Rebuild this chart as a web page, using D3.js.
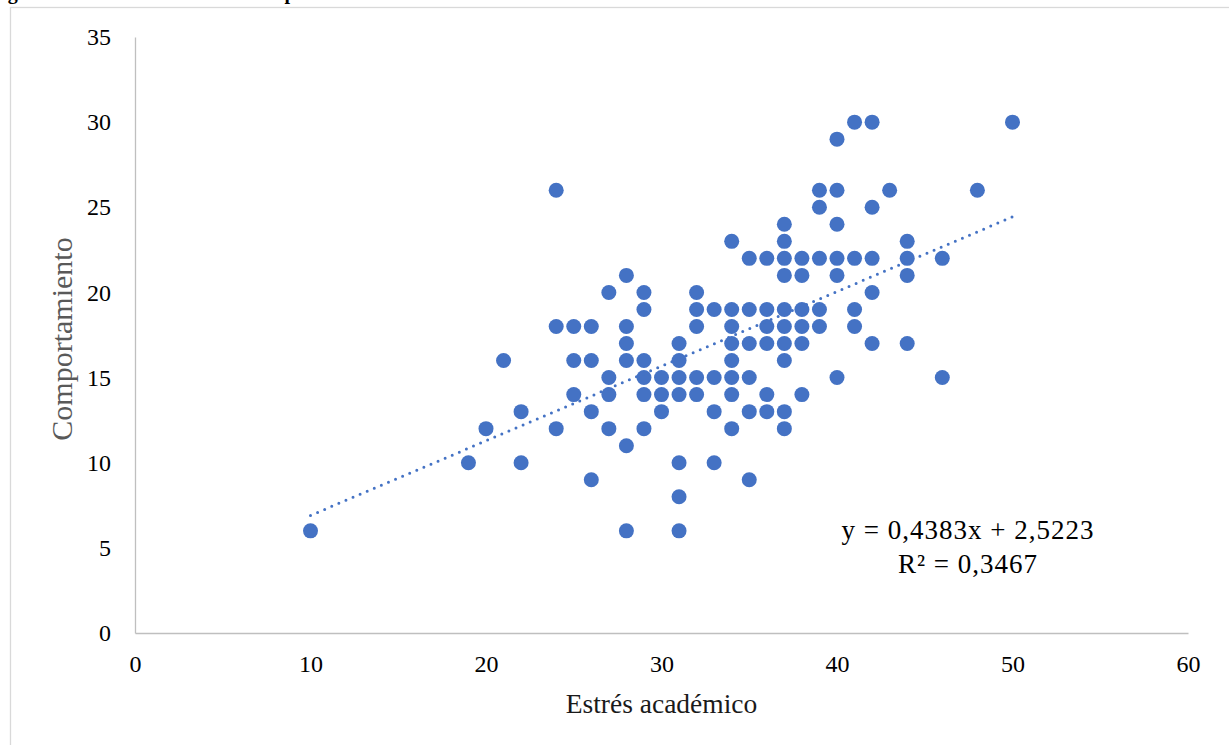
<!DOCTYPE html>
<html>
<head>
<meta charset="utf-8">
<script src="https://cdnjs.cloudflare.com/ajax/libs/d3/7.8.5/d3.min.js"></script>
<style>
  body { margin: 0; background: #fff; }
  svg { display: block; font-family: "Liberation Serif", "Times New Roman", serif; }
  svg text { font-family: "Liberation Serif", "Times New Roman", serif; }
</style>
</head>
<body>
<div id="chart"></div>
<script>
// estrés académico (x) and comportamiento (y), one entry per visible point
const ESTRES = [
  10, 19, 20, 21, 22, 22,
  24, 24, 24, 25, 25, 25,
  26, 26, 26, 26, 27, 27, 27, 27,
  28, 28, 28, 28, 28, 28,
  29, 29, 29, 29, 29, 29,
  30, 30, 30,
  31, 31, 31, 31, 31, 31, 31,
  32, 32, 32, 32, 32,
  33, 33, 33, 33,
  34, 34, 34, 34, 34, 34, 34, 34,
  35, 35, 35, 35, 35, 35,
  36, 36, 36, 36, 36, 36,
  37, 37, 37, 37, 37, 37, 37, 37, 37, 37,
  38, 38, 38, 38, 38, 38,
  39, 39, 39, 39, 39,
  40, 40, 40, 40, 40, 40,
  41, 41, 41, 41,
  42, 42, 42, 42, 42,
  43, 44, 44, 44, 44,
  46, 46, 48, 50
]
const COMPORTAMIENTO = [
  6, 10, 12, 16, 13, 10,
  26, 18, 12, 18, 16, 14,
  18, 16, 13, 9, 20, 15, 14, 12,
  21, 18, 17, 16, 11, 6,
  20, 19, 16, 15, 14, 12,
  15, 14, 13,
  17, 16, 15, 14, 10, 8, 6,
  20, 19, 18, 15, 14,
  19, 15, 13, 10,
  23, 19, 18, 17, 16, 15, 14, 12,
  22, 19, 17, 15, 13, 9,
  22, 19, 18, 17, 14, 13,
  24, 23, 22, 21, 19, 18, 17, 16, 13, 12,
  22, 21, 19, 18, 17, 14,
  26, 25, 22, 19, 18,
  29, 26, 24, 22, 21, 15,
  30, 22, 19, 18,
  30, 25, 22, 20, 17,
  26, 23, 22, 21, 17,
  22, 15, 26, 30
]
const X_TICKS = [0, 10, 20, 30, 40, 50, 60]
const Y_TICKS = [0, 5, 10, 15, 20, 25, 30, 35]

// linear trendline as printed on the chart
const SLOPE = 0.4383
const INTERCEPT = 2.5223
const TREND_RANGE = [10, 50]
const EQ_LINES = ["y = 0,4383x + 2,5223", "R² = 0,3467"]

const WIDTH = 1229
const HEIGHT = 745
const LEFT = 135
const RIGHT = 1188
const TOP = 37
const BOTTOM = 633
const BLUE = "#4472c4"
const SERIF = '"Liberation Serif", "Times New Roman", serif'

const DATA = ESTRES.map((x, i) => [x, COMPORTAMIENTO[i]])

const xScale = d3.scaleLinear().domain([0, 60]).range([LEFT, RIGHT])
const yScale = d3.scaleLinear().domain([0, 35]).range([BOTTOM, TOP])

const svg = d3.select("#chart")
  .append("svg")
  .attr("width", WIDTH)
  .attr("height", HEIGHT)

// caption of the document above the chart, cut by the crop as in the source
svg.append("text")
  .attr("x", -10)
  .attr("y", -1)
  .attr("font-size", 20)
  .attr("font-weight", "bold")
  .attr("fill", "#000")
  .text("Figura 1 Estrés académico vs. comportamiento")

// chart frame (runs past the page edges)
svg.append("rect")
  .attr("x", 10.5)
  .attr("y", 7.5)
  .attr("width", WIDTH + 20)
  .attr("height", HEIGHT + 20)
  .attr("fill", "none")
  .attr("stroke", "#d9d9d9")
  .attr("stroke-width", 1.3)

const xAxis = d3.axisBottom(xScale).tickValues(X_TICKS).tickSize(0).tickPadding(22)
const yAxis = d3.axisLeft(yScale).tickValues(Y_TICKS).tickSize(0).tickPadding(24)

const gx = svg.append("g")
  .attr("id", "x-axis")
  .attr("transform", `translate(0,${BOTTOM})`)
  .call(xAxis)

const gy = svg.append("g")
  .attr("id", "y-axis")
  .attr("transform", `translate(${LEFT},0)`)
  .call(yAxis)

for (const g of [gx, gy]) {
  g.attr("font-family", null).attr("font-size", null)
  g.select(".domain").attr("stroke", "#bfbfbf").attr("stroke-width", 1.3)
  g.selectAll(".tick text")
    .style("font-family", SERIF)
    .style("font-size", "24px")
    .attr("fill", "#000")
}

// axis titles
svg.append("text")
  .attr("x", (LEFT + RIGHT) / 2)
  .attr("y", 713)
  .attr("text-anchor", "middle")
  .attr("font-size", 27.5)
  .attr("fill", "#1a1a1a")
  .text("Estrés académico")

svg.append("text")
  .attr("transform", `translate(72,${(TOP + BOTTOM) / 2 + 4}) rotate(-90)`)
  .attr("text-anchor", "middle")
  .attr("font-size", 30)
  .attr("fill", "#595959")
  .text("Comportamiento")

// points
svg.selectAll("circle.dot")
  .data(DATA)
  .enter()
  .append("circle")
  .attr("class", "dot")
  .attr("cx", d => xScale(d[0]))
  .attr("cy", d => yScale(d[1]))
  .attr("r", 7.5)
  .attr("fill", BLUE)

// dotted trendline
const trend = TREND_RANGE.map(x => [x, SLOPE * x + INTERCEPT])
svg.append("path")
  .datum(trend)
  .attr("d", d3.line().x(d => xScale(d[0])).y(d => yScale(d[1])))
  .attr("fill", "none")
  .attr("stroke", BLUE)
  .attr("stroke-width", 3)
  .attr("stroke-linecap", "round")
  .attr("stroke-dasharray", "0 7.7")

// equation label
svg.append("text")
  .attr("x", 968)
  .attr("y", 539)
  .attr("text-anchor", "middle")
  .attr("font-size", 27)
  .attr("letter-spacing", 1)
  .attr("fill", "#000")
  .selectAll("tspan")
  .data(EQ_LINES)
  .enter()
  .append("tspan")
  .attr("x", 968)
  .attr("dy", (d, i) => i === 0 ? 0 : 34)
  .text(d => d)
</script>
</body>
</html>
